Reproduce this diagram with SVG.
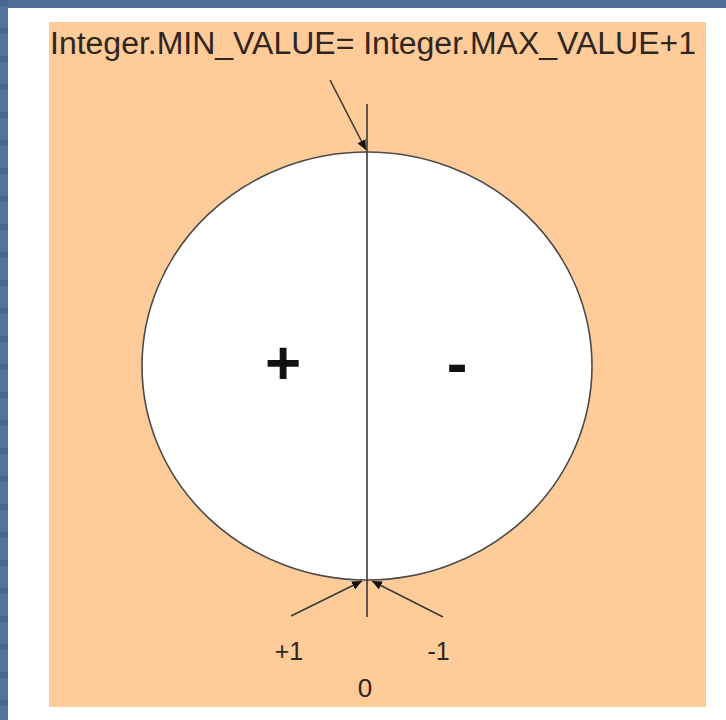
<svg xmlns="http://www.w3.org/2000/svg" width="726" height="720" viewBox="0 0 726 720">
  <style>
    .lbl { font-family: "Liberation Sans", Arial, sans-serif; fill: #2e2620; }
    .sign { font-family: "Liberation Sans", Arial, sans-serif; font-weight: bold; fill: #111; }
    .conn { stroke: #3a3a3a; stroke-width: 1.6; fill: none; }
  </style>
  <defs>
    <marker id="ah" markerUnits="userSpaceOnUse" markerWidth="11" markerHeight="10" refX="10" refY="4.5" orient="auto">
      <path d="M0,0 L10,4.5 L0,9 z" fill="#111"/>
    </marker>
    <pattern id="stripe" width="8" height="28" patternUnits="userSpaceOnUse">
      <rect width="8" height="28" fill="#53739f"/>
      <rect y="0" width="8" height="6" fill="#48678f"/>
    </pattern>
  </defs>

  <!-- background frame -->
  <rect x="0" y="0" width="726" height="720" fill="#ffffff"/>
  <rect x="0" y="0" width="726" height="8" fill="#4f6e99"/>
  <rect x="0" y="0" width="8" height="720" fill="url(#stripe)"/>
  <rect x="49" y="22" width="657" height="685" fill="#fecb99"/>

  <!-- title -->
  <g id="title">
    <text class="lbl" x="50" y="54" font-size="31" textLength="646" lengthAdjust="spacingAndGlyphs">Integer.MIN_VALUE= Integer.MAX_VALUE+1</text>
  </g>

  <!-- circle node -->
  <g id="circle">
    <ellipse cx="367" cy="366" rx="225" ry="214" fill="#ffffff" stroke="#4a4a4a" stroke-width="1.6"/>
  </g>

  <!-- connectors -->
  <g id="connectors">
    <line class="conn" x1="367" y1="104" x2="367" y2="617"/>
    <line class="conn" x1="330" y1="80" x2="366" y2="150" marker-end="url(#ah)"/>
    <line class="conn" x1="291" y1="616" x2="362" y2="581" marker-end="url(#ah)"/>
    <line class="conn" x1="443" y1="617" x2="372" y2="581" marker-end="url(#ah)"/>
  </g>

  <!-- sign labels -->
  <g id="plus">
    <text class="sign" x="283" y="384" font-size="62" text-anchor="middle">+</text>
  </g>
  <g id="minus">
    <text class="sign" x="457" y="384" font-size="62" text-anchor="middle">-</text>
  </g>

  <!-- bottom labels -->
  <g id="label-plus1">
    <text class="lbl" x="289" y="660" font-size="25" text-anchor="middle">+1</text>
  </g>
  <g id="label-minus1">
    <text class="lbl" x="438.5" y="660" font-size="25" text-anchor="middle">-1</text>
  </g>
  <g id="label-zero">
    <text class="lbl" x="365" y="697" font-size="26" text-anchor="middle">0</text>
  </g>
</svg>
